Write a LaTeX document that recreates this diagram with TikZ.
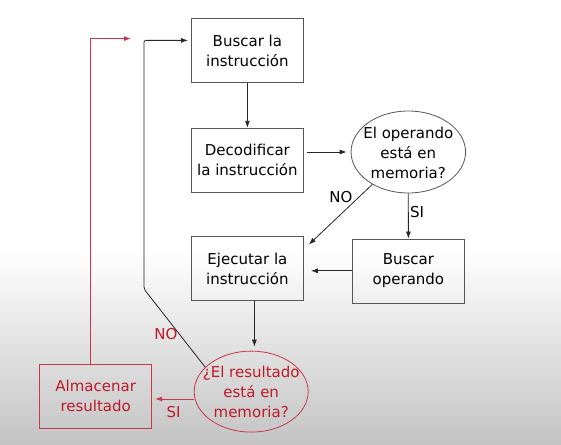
\documentclass[tikz,border=0pt]{standalone}
\usepackage{fontspec}
\setmainfont{DejaVu Sans}
\usetikzlibrary{arrows.meta,shapes.geometric}
\definecolor{linegray}{RGB}{85,85,85}
\definecolor{txtred}{RGB}{190,25,40}
\definecolor{linered}{RGB}{200,55,75}
\definecolor{bggray}{RGB}{196,196,196}
\tikzset{
  txt/.style={font=\fontsize{15}{20}\selectfont, align=center, inner sep=0pt},
  box/.style={draw=linegray, line width=0.9pt, minimum width=112pt, minimum height=64pt, txt},
  oval/.style={draw=linegray, line width=0.8pt, ellipse, inner sep=0pt},
  arr/.style={-{Latex[length=7pt,width=5pt]}, line width=0.8pt, draw=black!85},
  redarr/.style={-{Latex[length=7pt,width=5pt]}, line width=0.9pt, draw=linered},
  lbl/.style={font=\fontsize{15}{18}\selectfont, inner sep=0pt}
}
\begin{document}
\begin{tikzpicture}[x=1pt,y=-1pt]
\useasboundingbox (0,0) rectangle (561,444);
\fill[white] (0,0) rectangle (561,444);
\shade[top color=white, bottom color=bggray] (0,250) rectangle (561,444);

\node[box] (b1) at (247.4,50.8) {Buscar la\\instrucción};
\node[box] (b2) at (247.4,160.3) {Decodificar\\la instrucción};
\node[box] (ej) at (247.4,268.5) {Ejecutar la\\instrucción};
\node[box] (bo) at (408.4,271) {Buscar\\operando};
\node[oval, minimum width=114.5pt, minimum height=82pt] (e1) at (408.3,152) {};
\node[txt] (e1t) at (408.3,153) {El operando\\está en\\memoria?};
\node[oval, draw=linered, minimum width=114pt, minimum height=81pt] (e2) at (251.2,391.6) {};
\node[txt, text=txtred] (e2t) at (251.2,392.3) {¿El resultado\\está en\\memoria?};
\node[box, draw=linered, text=txtred] (al) at (95.7,396) {Almacenar\\resultado};

\draw[arr] (b1.south) -- (b2.north);
\draw[arr, shorten <=3pt, shorten >=4pt] (b2.east |- e1.west) -- (e1.west);
\draw[arr] (e1.south) -- (bo.north);
\draw[arr] (e1.222) -- ([shift={(5pt,-8.5pt)}]ej.north east);
\draw[arr, shorten >=7pt] (bo.west |- 0,270.8) -- (ej.east |- 0,270.8);
\draw[arr, shorten >=4pt] ([xshift=7pt]ej.south) -- ([xshift=7pt]ej.south |- e2.north);

\coordinate (n1) at (144,289);
\coordinate (n2) at (188,40.4);
\draw[arr, rounded corners=2pt] (e2.152) -- (n1) |- (n2);

\coordinate (r1) at (131,38.6);
\draw[redarr] ([xshift=-5pt]al.north) |- (r1);
\draw[redarr, shorten >=3pt] (e2.west |- 0,399) -- (al.east |- 0,399);

\node[lbl] (lno1) at (341,197) {NO};
\node[lbl] (lsi1) at (417,212) {SI};
\node[lbl, text=txtred] (lno2) at (166,334) {NO};
\node[lbl, text=txtred] (lsi2) at (173.5,412.5) {SI};
\end{tikzpicture}
\end{document}
